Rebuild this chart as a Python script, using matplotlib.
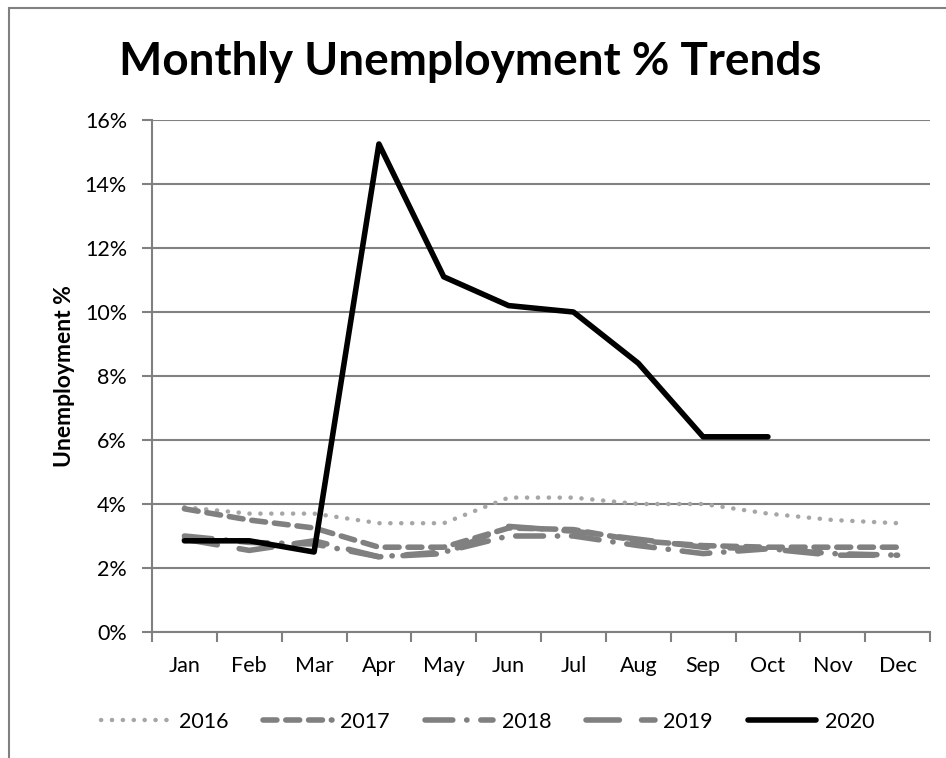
import matplotlib.pyplot as plt
from matplotlib.patches import Rectangle
from matplotlib.ticker import FuncFormatter, FixedLocator

months = ["Jan", "Feb", "Mar", "Apr", "May", "Jun", "Jul", "Aug", "Sep", "Oct", "Nov", "Dec"]
y2016 = [3.9, 3.7, 3.7, 3.4, 3.4, 4.2, 4.2, 4.0, 4.0, 3.7, 3.5, 3.4]
y2017 = [3.85, 3.5, 3.25, 2.65, 2.65, 3.25, 3.2, 2.85, 2.7, 2.65, 2.65, 2.65]
y2018 = [3.0, 2.8, 2.75, 2.35, 2.5, 3.0, 3.0, 2.7, 2.45, 2.6, 2.45, 2.4]
y2019 = [2.9, 2.55, 2.85, 2.35, 2.45, 3.3, 3.15, 2.9, 2.65, 2.6, 2.4, 2.4]
y2020 = [2.85, 2.85, 2.5, 15.25, 11.1, 10.2, 10.0, 8.4, 6.1, 6.1]

plt.rcParams['font.family'] = ['Lato', 'DejaVu Sans']

fig = plt.figure(figsize=(9.46, 7.58), dpi=100)
ax = fig.add_axes([152/946, 1 - 632/758, 778/946, 512/758])

x = list(range(12))
grey = '#808080'
ax.plot(x, y2016, color='#a6a6a6', lw=3.2, linestyle=(0, (0.05, 2.4)),
        dash_capstyle='round', solid_capstyle='round', label='2016')
ax.plot(x, y2017, color=grey, lw=4, linestyle=(0, (2.5, 1.6)),
        dash_capstyle='round', label='2017')
ax.plot(x, y2018, color=grey, lw=4, linestyle=(0, (5, 2.5, 0.05, 2.5)),
        dash_capstyle='round', label='2018')
ax.plot(x, y2019, color=grey, lw=4, linestyle=(0, (6, 4)),
        dash_capstyle='round', label='2019')
ax.plot(x[:len(y2020)], y2020, color='black', lw=4, solid_capstyle='round',
        solid_joinstyle='round', label='2020')

ax.set_xlim(-0.5, 11.5)
ax.set_ylim(0, 16)
ax.set_yticks(range(0, 17, 2))
ax.yaxis.set_major_formatter(FuncFormatter(lambda v, p: f"{int(v)}%"))
ax.set_xticks(x)
ax.set_xticklabels(months)
ax.xaxis.set_minor_locator(FixedLocator([i - 0.5 for i in range(13)]))
ax.tick_params(axis='x', which='major', length=0, pad=17, labelsize=15.5)
ax.tick_params(axis='x', which='minor', length=7, width=1.5, color=grey)
ax.tick_params(axis='y', length=7, width=1.5, color=grey, labelsize=15.5, pad=11)
ax.grid(axis='y', color=grey, lw=1.5)
ax.set_axisbelow(True)
for s in ['top', 'right']:
    ax.spines[s].set_visible(False)
for s in ['left', 'bottom']:
    ax.spines[s].set_color(grey)
    ax.spines[s].set_linewidth(1.5)

ax.set_ylabel("Unemployment %", fontsize=16.5, fontweight='bold', va='center')
ax.yaxis.set_label_coords(-0.112, 0.5)
fig.text(470/946, 1 - 62/758, "Monthly Unemployment % Trends", fontsize=33,
         fontweight='bold', ha='center', va='center')

fig.legend(loc='center', bbox_to_anchor=(488/946, 1 - 722/758), ncol=5,
           frameon=False, fontsize=15.5, handlelength=3.2, columnspacing=1.6,
           handletextpad=0.4)

fig.add_artist(Rectangle((9/946, -0.1), 1.2, 1 - 8/758 + 0.1,
                         transform=fig.transFigure, fill=False,
                         edgecolor=grey, lw=1.5))

fig.savefig("out.png", dpi=100)
